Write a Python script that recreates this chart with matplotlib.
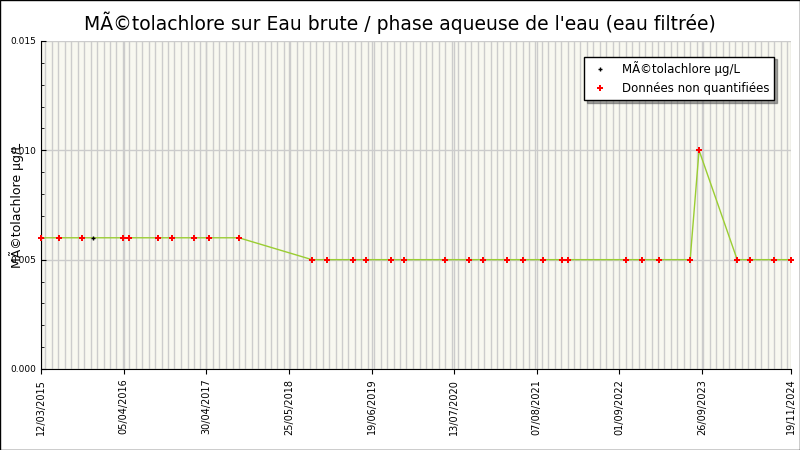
import matplotlib
matplotlib.use("Agg")
import matplotlib.pyplot as plt
import matplotlib.dates as mdates
import pandas as pd
import numpy as np

dates = ["2015-03-12","2015-06-05","2015-09-20","2015-11-14","2016-04-01","2016-05-02",
         "2016-09-16","2016-11-17","2017-03-05","2017-05-15","2017-10-01","2018-09-11",
         "2018-11-19","2019-03-22","2019-05-23","2019-09-21","2019-11-18","2020-05-30",
         "2020-09-20","2020-11-25","2021-03-19","2021-06-03","2021-09-05","2021-12-04",
         "2022-01-01","2022-10-02","2022-12-17","2023-03-07","2023-08-01","2023-09-12",
         "2024-03-10","2024-05-10","2024-09-01","2024-11-19"]
values = [0.006]*11 + [0.005]*18 + [0.010] + [0.005]*4
quantified = [False,False,False,True] + [False]*30
tick_labels = ["12/03/2015","05/04/2016","30/04/2017","25/05/2018","19/06/2019",
               "13/07/2020","07/08/2021","01/09/2022","26/09/2023","19/11/2024"]

x = pd.to_datetime(dates)
v = np.array(values)
q = np.array(quantified)

fig = plt.figure(figsize=(8, 4.5), dpi=100)
ax = fig.add_axes([0.05125, 0.18, 0.9375, 0.729])
ax.set_facecolor("#F8F8F0")
ax.plot(x, v, color="#9ACD32", lw=1, zorder=2, clip_on=False)
ax.plot(x[q], v[q], ls="none", marker="+", color="black", ms=3, mew=1, zorder=3,
        label="MÃ©tolachlore µg/L", clip_on=False)
ax.plot(x[~q], v[~q], ls="none", marker="P", color="red", ms=4.5, mew=0, zorder=3,
        label="Données non quantifiées", clip_on=False)

tks = pd.to_datetime(tick_labels, format="%d/%m/%Y")
ax.set_xlim(tks[0], tks[-1])
ax.set_ylim(0, 0.015)
ax.set_xticks(tks)
ax.set_xticklabels(tick_labels, rotation=90, fontsize=7)
ax.xaxis.set_minor_locator(mdates.MonthLocator())
ax.grid(which="minor", axis="x", color="#CCCCCC", lw=1)
ax.grid(which="major", axis="x", color="#CCCCCC", lw=1)
ax.set_yticks([0, 0.005, 0.010, 0.015])
ax.set_yticklabels(["0.000", "0.005", "0.010", "0.015"], fontsize=6.5)
ax.yaxis.set_minor_locator(matplotlib.ticker.MultipleLocator(0.001))
ax.grid(which="major", axis="y", color="#CCCCCC", lw=1)
ax.tick_params(axis="x", which="minor", length=0)
ax.tick_params(axis="y", which="both", direction="in")
ax.set_axisbelow(True)
for s in ["top", "right"]:
    ax.spines[s].set_visible(False)
ax.set_ylabel("MÃ©tolachlore µg/L", fontsize=9)
ax.yaxis.set_label_coords(-0.022, 0.5)
fig.suptitle("MÃ©tolachlore sur Eau brute / phase aqueuse de l'eau (eau filtrée)",
             fontsize=13.5, y=0.975)
leg = ax.legend(loc="upper right", bbox_to_anchor=(0.985, 0.97), fontsize=8.5,
                fancybox=False, edgecolor="black", framealpha=1, shadow=True)
fig.patches.append(plt.Rectangle((0, 0), 1, 1, transform=fig.transFigure,
                                 fill=False, edgecolor="black", lw=1))
fig.savefig("out.png", dpi=100)
